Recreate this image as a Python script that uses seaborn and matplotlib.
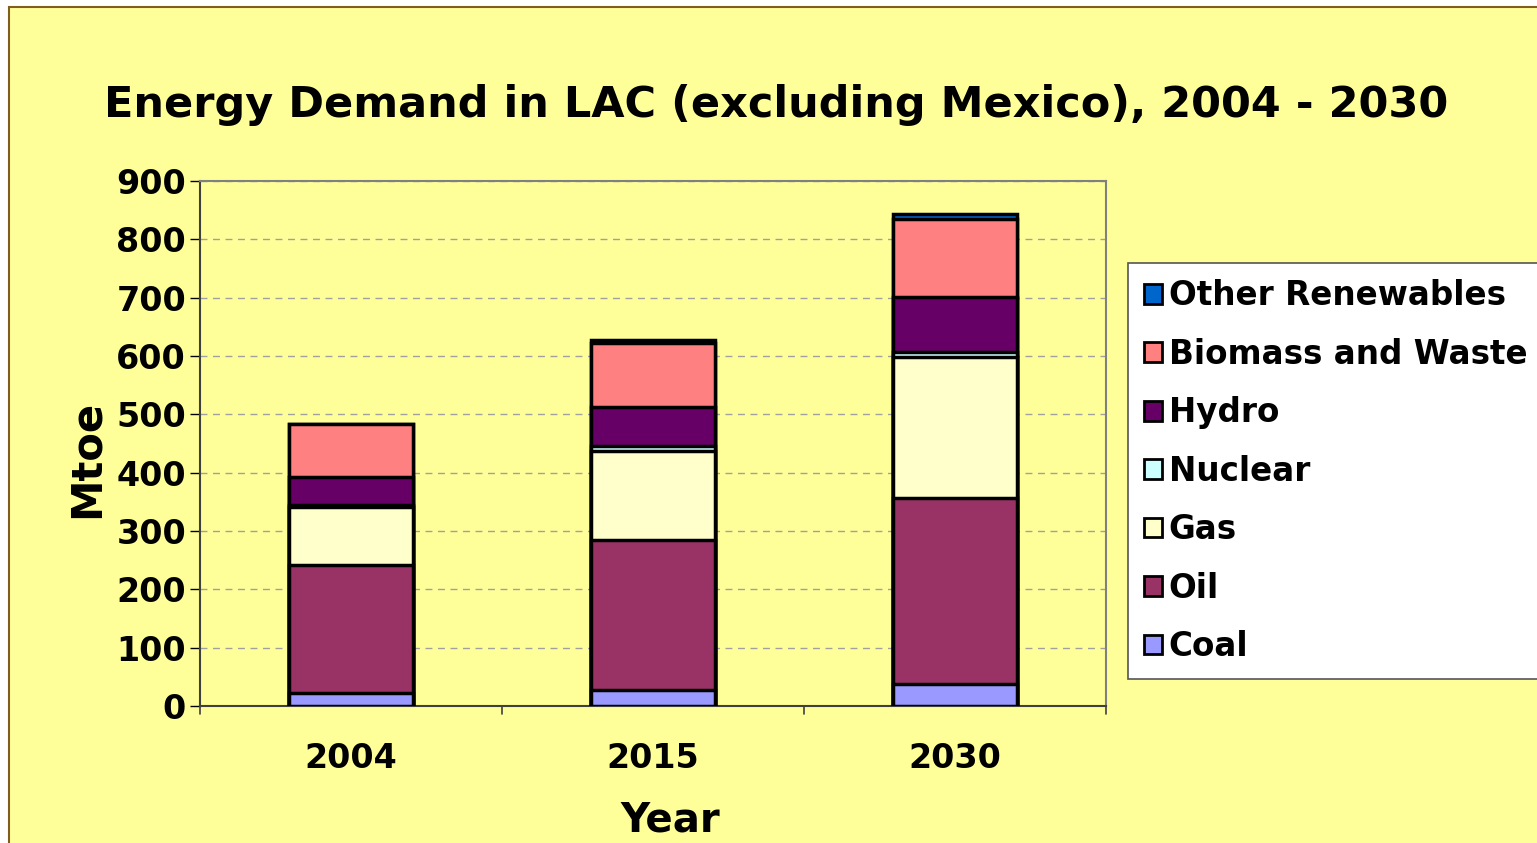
import numpy as np
import pandas as pd
import seaborn as sns
import matplotlib.pyplot as plt
from matplotlib.patches import Patch, Rectangle

# Values (Mtoe)
years = ['2004', '2015', '2030']
coal = [22, 27, 37]
oil = [220, 257, 320]
gas = [99, 153, 241]
nuclear = [4, 9, 9]
hydro = [48, 67, 95]
biomass = [90, 110, 132]
other_renewables = [1, 5, 9]

sources = ['Coal', 'Oil', 'Gas', 'Nuclear', 'Hydro', 'Biomass and Waste', 'Other Renewables']
colors = ['#9999FF', '#993366', '#FFFFCC', '#CCFFFF', '#660066', '#FF8080', '#0066CC']

sns.set_style('white')
plt.rcParams['font.family'] = ['DejaVu Sans']
plt.rcParams['font.weight'] = 'bold'
plt.rcParams['text.color'] = 'black'
plt.rcParams['axes.labelcolor'] = 'black'
plt.rcParams['xtick.color'] = 'black'
plt.rcParams['ytick.color'] = 'black'

df = pd.DataFrame({
    'Year': years, 'Coal': coal, 'Oil': oil, 'Gas': gas, 'Nuclear': nuclear,
    'Hydro': hydro, 'Biomass and Waste': biomass, 'Other Renewables': other_renewables,
})
cum = df[sources].cumsum(axis=1)
cum['Year'] = df['Year']

bg = '#FFFF99'
W, H = 1537, 843
fig = plt.figure(figsize=(W / 100, H / 100), dpi=100)
fig.patch.set_facecolor('white')
fig.patches.append(Rectangle((9 / W, -0.1), 1.2, 1.1 - 7 / H, transform=fig.transFigure,
                             facecolor=bg, edgecolor='#7F5F1F', linewidth=1.5, zorder=-10))

ax = fig.add_axes([200 / W, 1 - 706 / H, 906 / W, 525 / H])
ax.set_facecolor(bg)

# stacked bars: draw cumulative totals from the top down
for src, col in zip(reversed(sources), reversed(colors)):
    sns.barplot(data=cum, x='Year', y=src, color=col, width=0.41,
                edgecolor='black', linewidth=2.5, saturation=1, ax=ax, zorder=3)

ax.set_ylim(0, 900)
ax.set_xlim(-0.5, 2.5)
ax.set_yticks(range(0, 901, 100))
ax.yaxis.grid(True, linestyle=(0, (5, 4)), color='#A0A0A0', linewidth=1, zorder=0)
ax.set_axisbelow(True)
for s in ax.spines.values():
    s.set_color('#808080')
    s.set_linewidth(1.5)
ax.spines['left'].set_color('#404040')
ax.spines['bottom'].set_color('#404040')

ax.tick_params(axis='y', labelsize=24, length=7, width=1, direction='out', pad=3, left=True)
ax.tick_params(axis='x', labelsize=24, length=0, pad=26)
ax.set_xticks([0, 1, 2])
ax.set_xticklabels(years)
for xb in [-0.5, 0.5, 1.5, 2.5]:
    ax.plot([xb, xb], [0, -0.016], transform=ax.get_xaxis_transform(), color='#404040',
            lw=1.2, clip_on=False)
for lab in ax.get_xticklabels() + ax.get_yticklabels():
    lab.set_fontweight('bold')

ax.set_xlabel('')
ax.set_ylabel('')
fig.text(670 / W, 1 - 840 / H, 'Year', ha='center', va='bottom', fontsize=29, fontweight='bold')
fig.text(87 / W, 1 - 459 / H, 'Mtoe', ha='center', va='center', rotation=90,
         fontsize=30, fontweight='bold')

fig.text(776 / W, 1 - 105 / H, 'Energy Demand in LAC (excluding Mexico), 2004 - 2030',
         ha='center', va='center', fontsize=31, fontweight='bold')

handles = [Patch(facecolor=c, edgecolor='black', linewidth=2, label=s)
           for s, c in zip(reversed(sources), reversed(colors))]
leg = fig.legend(handles=handles, loc='upper left',
                 bbox_to_anchor=(1128 / W, 1 - 263 / H - 0.01, 0.3, 0.01), mode='expand',
                 fontsize=23.5, frameon=True, fancybox=False, edgecolor='#555555', framealpha=1,
                 handlelength=0.55, handleheight=0.55, handletextpad=0.2, labelspacing=0.78,
                 borderpad=0.5, borderaxespad=0)
leg.get_frame().set_linewidth(1.2)
leg.get_frame().set_facecolor('white')
for t in leg.get_texts():
    t.set_fontweight('bold')

fig.savefig('out.png', dpi=100, facecolor=fig.get_facecolor())
